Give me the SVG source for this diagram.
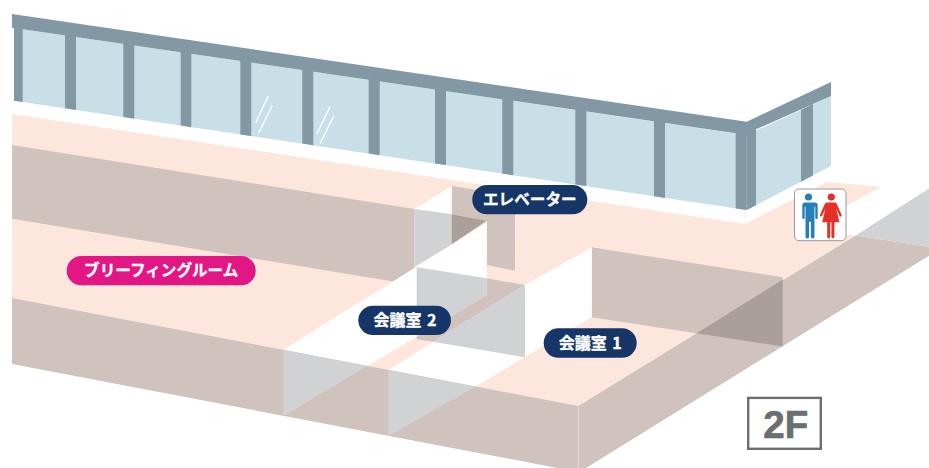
<svg xmlns="http://www.w3.org/2000/svg" width="929" height="468" viewBox="0 0 929 468">
<style>
.pink{fill:#fde7dd}.brown{fill:#d0c3be}.gray{fill:#d1d2d4}.dark{fill:#ab9f9b}.white{fill:#fff}
.glass{fill:#c9dfe7}.frame{fill:#8299a5}
.seam{stroke:#e2d9d4;stroke-width:1;fill:none}
.shine{stroke:#fff;stroke-width:1.4;fill:none}
.lbl{font-family:"Noto Sans CJK JP","Noto Sans",sans-serif;font-weight:700;font-size:16px;fill:#fff;stroke:#fff;stroke-width:.35;text-anchor:middle;word-spacing:2px}
.kana{font-size:15.6px}
.navy{fill:#173668}
</style>
<rect width="929" height="468" fill="#fff"/>
<g id="floor">
<polygon class="pink" points="12,114 745,224 827,182 881.7,186.7 797,232 855.7,235.5 578.3,406 12,298"/>
<polygon class="brown" points="12,145 414.3,209 414.3,285 12,218.7"/>
<polygon class="brown" points="451.7,186 515,196 515,270.7 487,265 487,221 451.7,214.3"/>
<polygon class="brown" points="591.7,247.3 782.7,277.3 782.7,346.5 591.7,317.3"/>
<polygon class="white" points="283.3,349.7 486.7,223 486.7,295 366.7,366.3"/>
<polygon class="white" points="414.3,209 451.7,186 451.7,214.3"/>
<polygon class="white" points="388.3,370 525,285 591.7,247.3 591.7,317.3 475,386.7"/>
<polygon class="gray" points="414.3,209 451.7,214.3 451.7,244.3 414.3,266.7"/>
<polygon class="dark" points="451.7,214.3 486.7,220.7 451.7,244.3"/>
<polygon class="gray" points="416.7,267.3 486.7,278.3 486.7,295 416.7,337"/>
<polygon class="brown" points="486.7,278.3 525,285 433,341.7 416.7,339.3 416.7,337 486.7,295"/>
<polygon class="gray" points="433,341.7 525,285 525,357.3"/>
</g>
<g id="block">
<polygon class="brown" points="12,298 578.3,406 855.7,235.5 929,246.7 929,255.7 586,468 578.3,468 578.3,472 12,364"/>
<polygon class="gray" points="283.3,349.7 366.7,366.3 283.3,416.3"/>
<polygon class="gray" points="388.3,370 475,386.7 388.3,436.3"/>
<polygon class="gray" points="929,188.5 855.7,235.5 929,246.7"/>
<polygon class="dark" points="696.7,333.3 782.7,279.5 782.7,346.5"/>
<line class="seam" x1="578.3" y1="406" x2="578.3" y2="468"/>
</g>
<g id="window">
<polygon class="glass" points="14,28 746.7,135 831,96 831,166 746.7,210 14,100.7"/>
<polygon class="frame" points="12,14 746.7,121.7 831,82 831,96 756,129.3 756,205.2 746.7,210 735.7,208.4 735.7,133.3 22.7,29.3 22.7,102 14,100.7 14,28 12,28"/>
<polygon class="frame" points="65,33.5 76,35 76,110 65,108.3"/>
<polygon class="frame" points="123.3,42 134.3,43.6 134.3,118.8 123.3,117"/>
<polygon class="frame" points="180.7,50.3 191.3,51.8 191.3,127.2 180.7,125.6"/>
<polygon class="frame" points="240.3,59 251.3,60.5 251.3,136 240.3,134.4"/>
<polygon class="frame" points="302.3,68 313.3,69.6 313.3,145.3 302.3,143.6"/>
<polygon class="frame" points="368.7,77.6 379.7,79.2 379.7,155.2 368.7,153.5"/>
<polygon class="frame" points="435,87.2 446,88.8 446,165 435,163.5"/>
<polygon class="frame" points="502.3,97 513.3,98.6 513.3,175.2 502.3,173.6"/>
<polygon class="frame" points="575.3,107.6 586.3,109.2 586.3,186 575.3,184.5"/>
<polygon class="frame" points="654,119 665,120.6 665,198 654,196.2"/>
<polygon class="frame" points="801,110 813,104 813,175.5 801,181.7"/>
<line x1="746.7" y1="135" x2="746.7" y2="210" stroke="#a3b5be" stroke-width="0.6"/>
<line x1="745.7" y1="210" x2="745.7" y2="224" stroke="#ececec" stroke-width="0.8"/>
<line class="shine" x1="268.3" y1="95.7" x2="255.7" y2="122.7"/>
<line class="shine" x1="272.3" y1="105.3" x2="258.7" y2="132.7"/>
<line class="shine" x1="330" y1="106.7" x2="316.7" y2="134.3"/>
<line class="shine" x1="333.7" y1="116.3" x2="320" y2="143.7"/>
</g>
<g id="restroom">
<rect x="794.5" y="189" width="51.5" height="51.7" rx="4.5" fill="#fff" stroke="#97989b" stroke-width="1"/>
<g fill="#277fb9">
<circle cx="808.5" cy="197" r="3.6"/>
<path d="M802.5,202.5h12.4a2.8,2.8 0 0 1 2.8,2.8v12.4a1.2,1.2 0 0 1-2.4,0v-11h-.8v30a1.8,1.8 0 0 1-3.6,0v-15h-1.8v15a1.8,1.8 0 0 1-3.6,0v-30h-.8v11a1.2,1.2 0 0 1-2.4,0v-12.4a2.8,2.8 0 0 1 2.2,-2.8z"/>
</g>
<g fill="#e63027">
<circle cx="831.3" cy="197" r="3.6"/>
<path d="M828,202.5h6.6a2.5,2.5 0 0 1 2.2,1.4l4.8,11.2a1,1 0 0 1-2,.8l-3.4,-7.5l3.2,13.8h-5v14.5a1.5,1.5 0 0 1-3,0v-14.5h-1.2v14.5a1.5,1.5 0 0 1-3,0v-14.5h-5l3.2,-13.8l-3.4,7.5a1,1 0 0 1-2,-.8l4.8,-11.2a2.5,2.5 0 0 1 2.2,-1.4z"/>
</g>
</g>
<g id="label-elevator">
<rect class="navy" x="472.3" y="185" width="115" height="29.3" rx="14.65"/>
<text class="lbl kana" x="529.8" y="205.3">エレベーター</text>
</g>
<g id="label-briefing">
<rect x="66.7" y="256" width="189" height="29.3" rx="14.65" fill="#e31685"/>
<text class="lbl kana" x="161.2" y="276.3">ブリーフィングルーム</text>
</g>
<g id="label-room2">
<rect class="navy" x="358.3" y="305.7" width="92.7" height="29.3" rx="14.65"/>
<text class="lbl" x="405" y="326">会議室 2</text>
</g>
<g id="label-room1">
<rect class="navy" x="543.7" y="328.3" width="93" height="29.4" rx="14.65"/>
<text class="lbl" x="590.2" y="348.6">会議室 1</text>
</g>
<g id="floor-badge">
<rect x="748.2" y="397.9" width="72.6" height="50.9" fill="#fff" stroke="#6d6e71" stroke-width="2.4"/>
<text x="785.7" y="438.4" font-family="'Liberation Sans',Arial,sans-serif" font-weight="700" font-size="38.5" fill="#6d6e71" stroke="#6d6e71" stroke-width=".7" text-anchor="middle">2F</text>
</g>
</svg>
